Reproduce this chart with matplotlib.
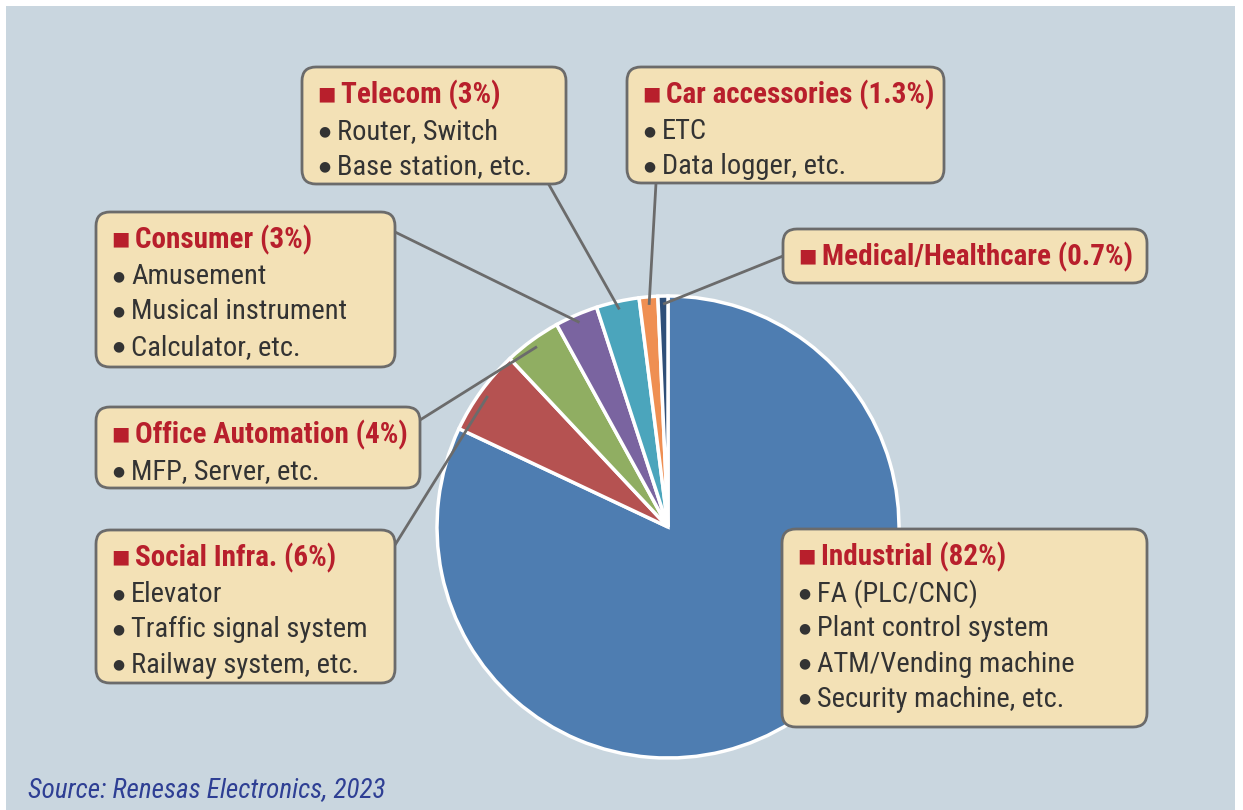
import matplotlib
matplotlib.use("Agg")
import matplotlib.pyplot as plt
import numpy as np
from matplotlib import font_manager
from matplotlib.patches import FancyBboxPatch, Rectangle

W, H = 1243, 810

segments = ["Industrial", "Social Infra.", "Office Automation", "Consumer", "Telecom", "Car accessories", "Medical/Healthcare"]
shares = [82, 6, 4, 3, 3, 1.3, 0.7]
share_labels = ["82%", "6%", "4%", "3%", "3%", "1.3%", "0.7%"]
examples = [
    ["FA (PLC/CNC)", "Plant control system", "ATM/Vending machine", "Security machine, etc."],
    ["Elevator", "Traffic signal system", "Railway system, etc."],
    ["MFP, Server, etc."],
    ["Amusement", "Musical instrument", "Calculator, etc."],
    ["Router, Switch", "Base station, etc."],
    ["ETC", "Data logger, etc."],
    [],
]
colors = ["#4e7db1", "#b55251", "#90ae62", "#7a64a0", "#4ba5bc", "#ef8f52", "#2f4f78"]

# box layout in pixel coords (left, top, right, bottom) and leader start point
boxes = [
    (782, 529, 1147, 727),
    (96, 530, 395, 683),
    (96, 407, 420, 488),
    (96, 212, 395, 367),
    (302, 67, 566, 184),
    (627, 67, 944, 183),
    (783, 229, 1147, 283),
]
leader_from = [None, (395, 545), (420, 420), (395, 232), (548, 183), (656, 183), (783, 256)]

CX, CY, R = 668, 527, 231


def pick_font(names):
    have = {f.name for f in font_manager.fontManager.ttflist}
    for n in names:
        if n in have:
            return n
    return "DejaVu Sans"


COND = pick_font(["Liberation Sans Narrow", "Roboto Condensed", "Open Sans Condensed", "Roboto"])


def y(py):
    return H - py


fig = plt.figure(figsize=(W / 100, H / 100), dpi=100, facecolor="white")
ax = fig.add_axes([0, 0, 1, 1])

ax.add_patch(Rectangle((6, 0), 1229, y(6), facecolor="#c9d6df", edgecolor="none", zorder=0))

wedges, _ = ax.pie(shares, colors=colors, startangle=90, counterclock=False,
                   center=(CX, y(CY)), radius=R,
                   wedgeprops=dict(edgecolor="white", linewidth=2.5))
for w in wedges:
    w.set_zorder(2)

# leader lines from boxes to wedge mid-angles
cum = np.cumsum([0] + shares[:-1])
for i, start in enumerate(leader_from):
    if start is None:
        continue
    mid = (cum[i] + shares[i] / 2) / 100 * 360
    ang = np.radians(90 - mid)
    ex, ey = CX + 0.965 * R * np.cos(ang), y(CY) + 0.965 * R * np.sin(ang)
    ax.plot([start[0], ex], [y(start[1]), ey], color="#6b6b6b", lw=2, zorder=3,
            solid_capstyle="butt")

for i, (l, t, r, b) in enumerate(boxes):
    ax.add_patch(FancyBboxPatch((l, y(b)), r - l, b - t,
                                boxstyle="round,pad=0,rounding_size=14",
                                facecolor="#f3e1b6", edgecolor="#6b6b6b", lw=2, zorder=4))
    base = t + 36
    ax.text(l + 15, y(base - 9), "\u25a0", fontsize=14, color="#b81f2c", family="DejaVu Sans",
            va="center", ha="left", zorder=5)
    ax.text(l + 39, y(base), f"{segments[i]} ({share_labels[i]})", fontsize=21,
            fontweight="bold", color="#b81f2c", family=[COND, "DejaVu Sans"],
            va="baseline", ha="left", zorder=5)
    for k, line in enumerate(examples[i]):
        by = base + 35.2 * (k + 1) + 1
        ax.text(l + 16, y(by - 8), "\u25cf", fontsize=10, color="#333333",
                family="DejaVu Sans", va="center", ha="left", zorder=5)
        ax.text(l + 35, y(by), line, fontsize=20.5, color="#333333",
                family=[COND, "DejaVu Sans"], va="baseline", ha="left", zorder=5)

ax.text(28, y(797), "Source: Renesas Electronics, 2023", fontsize=19.5, style="italic",
        color="#2e3f94", family=[COND, "DejaVu Sans"], va="baseline", ha="left", zorder=5)

ax.set_xlim(0, W)
ax.set_ylim(0, H)
ax.set_aspect("auto")
ax.axis("off")

fig.savefig("out.png", dpi=100, facecolor="white")
